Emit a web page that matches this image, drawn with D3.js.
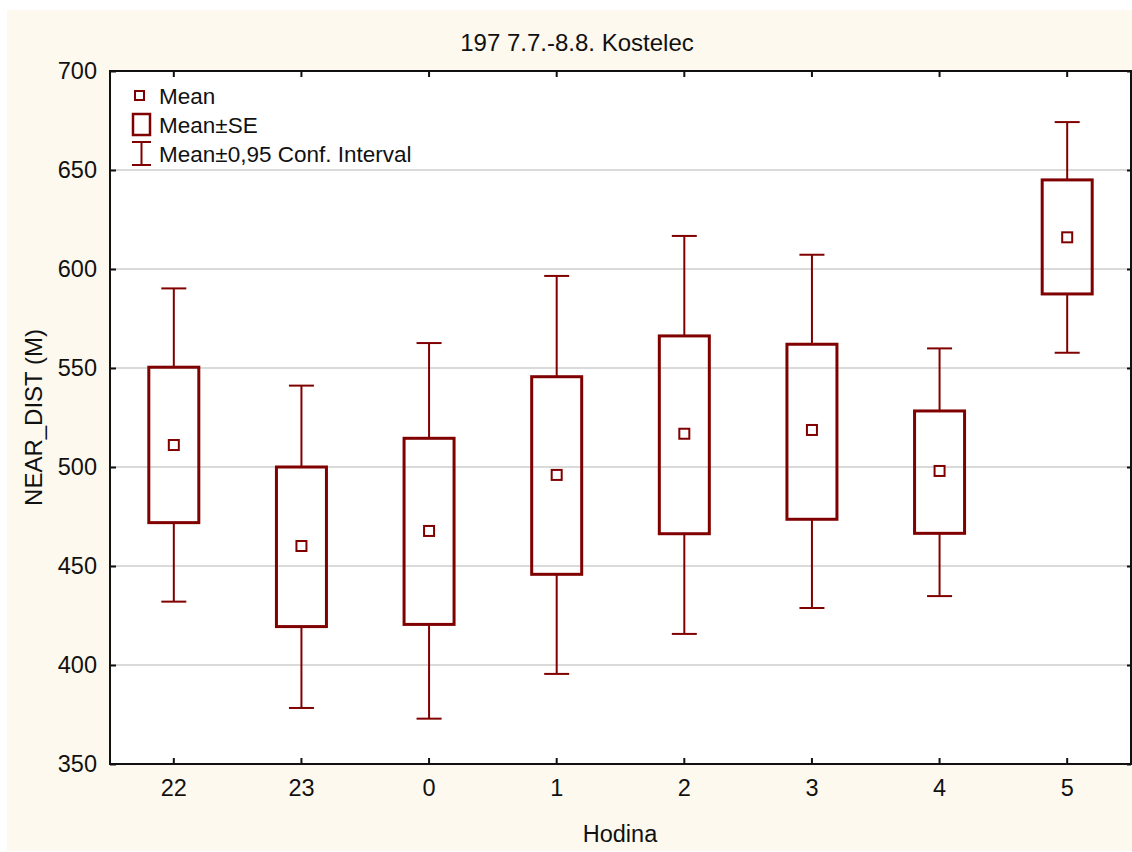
<!DOCTYPE html>
<head>
    <title>197 7.7.-8.8. Kostelec</title>
    <script src="https://cdn.jsdelivr.net/npm/d3@7"></script>
    <style>
      body { margin: 0; background: #fff; }
      text { font-family: "Liberation Sans", Arial, sans-serif; fill: #111; }
    </style>
</head>
<body>
<div id="container"></div>
<script>

// Données
const hodiny   = ["22", "23", "0", "1", "2", "3", "4", "5"];
const means    = [511.1, 460.1, 467.7, 496.0, 516.8, 518.7, 498.0, 616.0];
const seLow    = [471.9, 419.4, 420.5, 445.8, 466.3, 473.6, 466.5, 587.4];
const seHigh   = [550.4, 500.0, 514.5, 545.6, 566.2, 562.0, 528.3, 645.0];
const ciLow    = [432.0, 378.3, 372.9, 395.5, 415.7, 428.8, 434.8, 557.7];
const ciHigh   = [590.2, 541.1, 562.6, 596.5, 616.7, 607.2, 559.9, 674.2];
const yTicks   = [350, 400, 450, 500, 550, 600, 650, 700];

const data = hodiny.map((h, i) => ({
  hodina: h, mean: means[i], seLow: seLow[i], seHigh: seHigh[i],
  ciLow: ciLow[i], ciHigh: ciHigh[i]
}));

// Dimensions
const W = 1132, H = 852;
const marginLeft = 110, marginTop = 71, plotRight = 1131, plotBottom = 764;
const width = plotRight - marginLeft;
const height = plotBottom - marginTop;
const red = "#800000";

const svg = d3.select("#container").append("svg")
  .attr("width", W).attr("height", H);

// fond crème
svg.append("rect")
  .attr("x", 7).attr("y", 10).attr("width", W - 7).attr("height", H - 11)
  .attr("fill", "#fdf9ee");

const g = svg.append("g").attr("transform", `translate(${marginLeft},${marginTop})`);

g.append("rect").attr("width", width).attr("height", height).attr("fill", "#fff");

// Échelles
const x = d3.scaleBand().domain(hodiny).range([0, width]).padding(0);
const y = d3.scaleLinear().domain([350, 700]).range([height, 0]);
const cx = d => x(d.hodina) + x.bandwidth() / 2;

// grille
g.selectAll(".grid")
  .data(yTicks.filter(t => t > 350 && t < 700))
  .enter().append("line")
  .attr("x1", 0).attr("x2", width)
  .attr("y1", d => y(d)).attr("y2", d => y(d))
  .attr("stroke", "#dadada").attr("stroke-width", 2);

// Axes (ticks vers l'intérieur)
const axL = g.append("g")
  .call(d3.axisLeft(y).tickValues(yTicks).tickSize(-6).tickPadding(13).tickFormat(d3.format("d")));
const axR = g.append("g").attr("transform", `translate(${width},0)`)
  .call(d3.axisRight(y).tickValues(yTicks).tickSize(-4).tickFormat(""));
const axB = g.append("g").attr("transform", `translate(0,${height})`)
  .call(d3.axisBottom(x).tickSize(-6).tickPadding(15));
const axT = g.append("g")
  .call(d3.axisTop(x).tickSize(-6).tickFormat(""));

[axL, axR, axB, axT].forEach(a => {
  a.select(".domain").remove();
  a.selectAll(".tick line").attr("stroke", "#111").attr("stroke-width", 2);
  a.selectAll("text").style("font-size", "23.5px").attr("fill", "#111");
});

// whiskers (IC 0,95)
const boxes = g.selectAll(".hod").data(data).enter().append("g").attr("class", "hod");

boxes.append("line")
  .attr("x1", cx).attr("x2", cx)
  .attr("y1", d => y(d.ciHigh)).attr("y2", d => y(d.seHigh))
  .attr("stroke", red).attr("stroke-width", 2);
boxes.append("line")
  .attr("x1", cx).attr("x2", cx)
  .attr("y1", d => y(d.seLow)).attr("y2", d => y(d.ciLow))
  .attr("stroke", red).attr("stroke-width", 2);
["ciHigh", "ciLow"].forEach(k => {
  boxes.append("line")
    .attr("x1", d => cx(d) - 12.5).attr("x2", d => cx(d) + 12.5)
    .attr("y1", d => y(d[k])).attr("y2", d => y(d[k]))
    .attr("stroke", red).attr("stroke-width", 2);
});

// boîtes (moyenne ± SE)
boxes.append("rect")
  .attr("x", d => cx(d) - 25).attr("width", 50)
  .attr("y", d => y(d.seHigh)).attr("height", d => y(d.seLow) - y(d.seHigh))
  .attr("fill", "none").attr("stroke", red).attr("stroke-width", 3);

// moyenne
boxes.append("rect")
  .attr("x", d => cx(d) - 5).attr("width", 10)
  .attr("y", d => y(d.mean) - 5).attr("height", 10)
  .attr("fill", "#fff").attr("stroke", red).attr("stroke-width", 2);

// cadre
g.append("rect").attr("width", width).attr("height", height)
  .attr("fill", "none").attr("stroke", "#111").attr("stroke-width", 2);

// Légende
const leg = svg.append("g");
leg.append("rect").attr("x", 135).attr("y", 91).attr("width", 9).attr("height", 9)
  .attr("fill", "#fff").attr("stroke", red).attr("stroke-width", 2);
leg.append("rect").attr("x", 133).attr("y", 114).attr("width", 17).attr("height", 21)
  .attr("fill", "#fff").attr("stroke", red).attr("stroke-width", 2.5);
leg.append("line").attr("x1", 141.5).attr("x2", 141.5).attr("y1", 142).attr("y2", 165)
  .attr("stroke", red).attr("stroke-width", 2);
[142, 165].forEach(v => leg.append("line").attr("x1", 132).attr("x2", 151)
  .attr("y1", v).attr("y2", v).attr("stroke", red).attr("stroke-width", 2));
const legTexts = [["Mean", 104], ["Mean±SE", 133], ["Mean±0,95 Conf. Interval", 162]];
leg.selectAll(".lt").data(legTexts).enter().append("text")
  .attr("x", 159).attr("y", d => d[1])
  .style("font-size", "22.5px")
  .text(d => d[0]);

// Titres
svg.append("text").attr("x", 577).attr("y", 51).attr("text-anchor", "middle")
  .style("font-size", "24px").text("197 7.7.-8.8. Kostelec");
svg.append("text").attr("x", 620).attr("y", 842).attr("text-anchor", "middle")
  .style("font-size", "23.5px").text("Hodina");
svg.append("text").attr("transform", "translate(42,417.5) rotate(-90)")
  .attr("text-anchor", "middle")
  .style("font-size", "24px").text("NEAR_DIST (M)");

</script>
</body>
